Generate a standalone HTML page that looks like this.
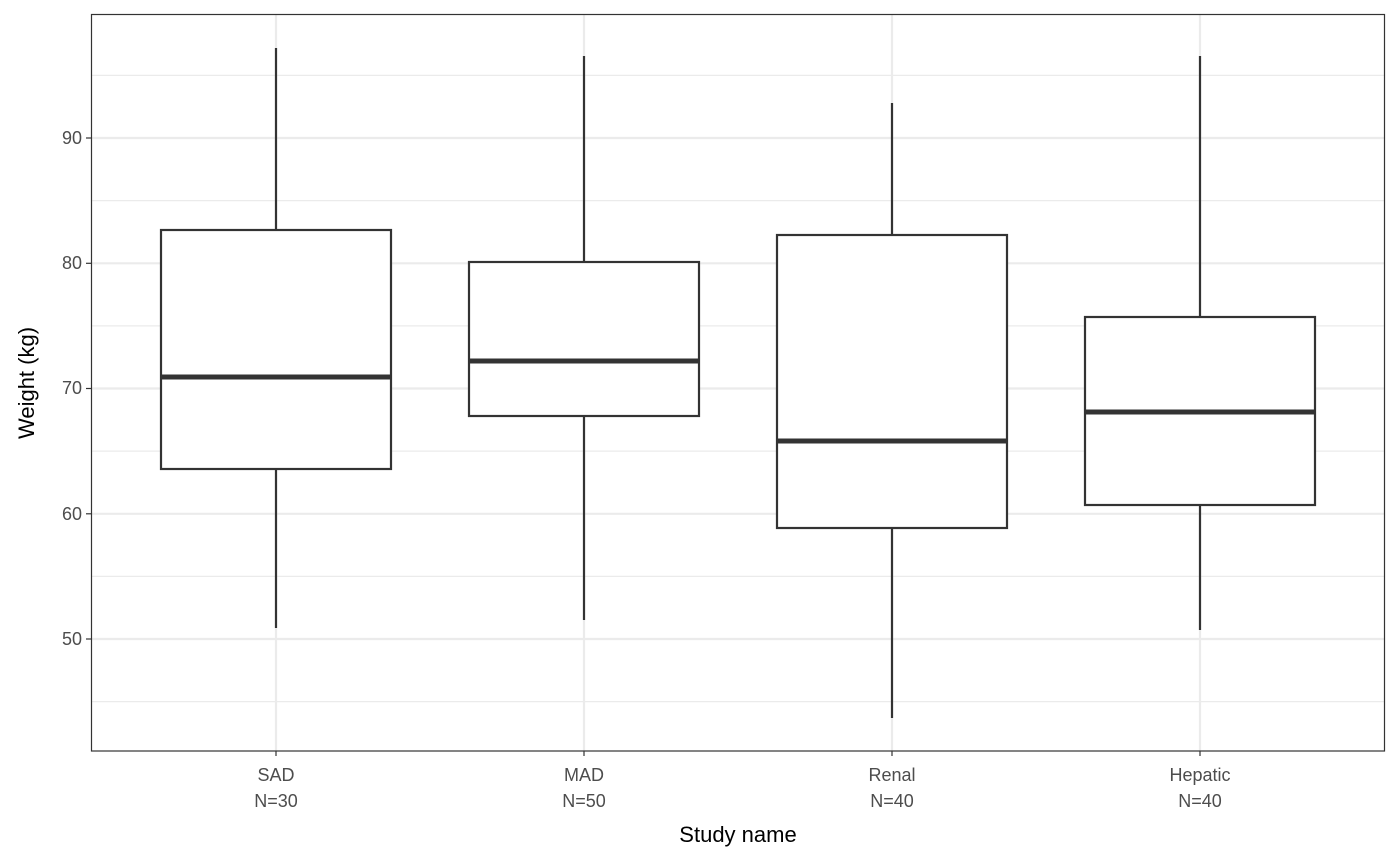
<!DOCTYPE html>
<html><head><meta charset="utf-8"><style>
body{margin:0;background:#fff;}
svg{display:block;font-family:"Liberation Sans","DejaVu Sans",sans-serif;}
</style></head><body>
<svg width="1400" height="866" viewBox="0 0 1400 866" xmlns="http://www.w3.org/2000/svg">
<rect width="1400" height="866" fill="#fff"/>
<g stroke="#ebebeb" stroke-width="1.2">
<line x1="91" x2="1385" y1="75.4" y2="75.4"/>
<line x1="91" x2="1385" y1="200.6" y2="200.6"/>
<line x1="91" x2="1385" y1="325.9" y2="325.9"/>
<line x1="91" x2="1385" y1="451.1" y2="451.1"/>
<line x1="91" x2="1385" y1="576.4" y2="576.4"/>
<line x1="91" x2="1385" y1="701.6" y2="701.6"/>
</g>
<g stroke="#ebebeb" stroke-width="2.2">
<line x1="91" x2="1385" y1="138" y2="138"/>
<line x1="91" x2="1385" y1="263.3" y2="263.3"/>
<line x1="91" x2="1385" y1="388.5" y2="388.5"/>
<line x1="91" x2="1385" y1="513.8" y2="513.8"/>
<line x1="91" x2="1385" y1="639" y2="639"/>
<line x1="276" x2="276" y1="14" y2="751"/>
<line x1="584" x2="584" y1="14" y2="751"/>
<line x1="892" x2="892" y1="14" y2="751"/>
<line x1="1200" x2="1200" y1="14" y2="751"/>
</g>
<g stroke="#333" stroke-width="2.2" fill="#fff">
<line x1="276" x2="276" y1="48" y2="628"/>
<rect x="161" y="230" width="230" height="239"/>
<line x1="161" x2="391" y1="377" y2="377" stroke-width="5"/>
<line x1="584" x2="584" y1="56" y2="620"/>
<rect x="469" y="262" width="230" height="154"/>
<line x1="469" x2="699" y1="361" y2="361" stroke-width="5"/>
<line x1="892" x2="892" y1="103" y2="718"/>
<rect x="777" y="235" width="230" height="293"/>
<line x1="777" x2="1007" y1="441" y2="441" stroke-width="5"/>
<line x1="1200" x2="1200" y1="56" y2="630"/>
<rect x="1085" y="317" width="230" height="188"/>
<line x1="1085" x2="1315" y1="412" y2="412" stroke-width="5"/>
</g>
<rect x="91.5" y="14.5" width="1293" height="736.5" fill="none" stroke="#333" stroke-width="1.2"/>
<g stroke="#333" stroke-width="1.2">
<line x1="86" x2="91" y1="138" y2="138"/><line x1="86" x2="91" y1="263.3" y2="263.3"/>
<line x1="86" x2="91" y1="388.5" y2="388.5"/><line x1="86" x2="91" y1="513.8" y2="513.8"/>
<line x1="86" x2="91" y1="639" y2="639"/>
<line x1="276" x2="276" y1="751" y2="756"/><line x1="584" x2="584" y1="751" y2="756"/>
<line x1="892" x2="892" y1="751" y2="756"/><line x1="1200" x2="1200" y1="751" y2="756"/>
</g>
<g fill="#4d4d4d" font-size="18" text-anchor="end">
<text x="82" y="144">90</text><text x="82" y="269">80</text><text x="82" y="394">70</text>
<text x="82" y="520">60</text><text x="82" y="645">50</text>
</g>
<g fill="#4d4d4d" font-size="18" text-anchor="middle">
<text x="276" y="781">SAD</text><text x="276" y="807">N=30</text>
<text x="584" y="781">MAD</text><text x="584" y="807">N=50</text>
<text x="892" y="781">Renal</text><text x="892" y="807">N=40</text>
<text x="1200" y="781">Hepatic</text><text x="1200" y="807">N=40</text>
</g>
<text x="738" y="842" font-size="22" text-anchor="middle" fill="#000">Study name</text>
<text transform="translate(34,383) rotate(-90)" font-size="22" text-anchor="middle" fill="#000">Weight (kg)</text>
</svg>
</body></html>
